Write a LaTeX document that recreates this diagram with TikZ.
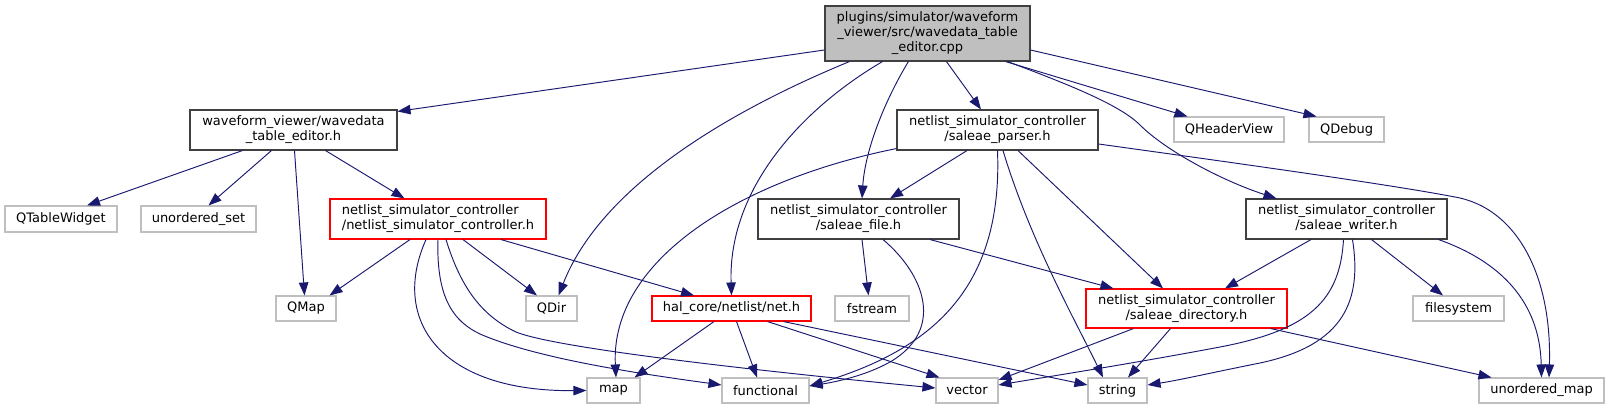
\documentclass[tikz,border=0pt]{standalone}
\usepackage{fontspec}
\usetikzlibrary{arrows.meta}
\newfontfamily\dgfont{DejaVu Sans}
\newcommand\dgtext{\dgfont\fontsize{13}{15}\selectfont}
\definecolor{edgecol}{HTML}{191970}
\definecolor{docborder}{HTML}{404040}
\definecolor{extborder}{HTML}{BFBFBF}
\definecolor{mainfill}{HTML}{BFBFBF}
\tikzset{
  nd/.style={draw=docborder, line width=1.1pt, fill=white, inner sep=0pt, align=center, font=\dgtext, text=black},
  ext/.style={nd, draw=extborder},
  redn/.style={nd, draw=red},
  edge/.style={draw=edgecol, line width=0.95pt, -{Triangle[length=13pt,width=9.5pt]}, fill=none},
}
\begin{document}
\begin{tikzpicture}[x=1pt,y=-1pt]
\useasboundingbox (0,0) rectangle (1609,409);
% nodes
\node[nd, fill=mainfill, minimum width=205pt, minimum height=55pt] (main) at (927.5,33.5) {plugins/simulator/waveform\\\_viewer/src/wavedata\_table\\\_editor.cpp};
\node[nd, minimum width=207pt, minimum height=40pt] (wte) at (293.5,130) {waveform\_viewer/wavedata\\\_table\_editor.h};
\node[ext, minimum width=112pt, minimum height=26pt] (qtw) at (61,219) {QTableWidget};
\node[ext, minimum width=115pt, minimum height=26pt] (uset) at (198.5,219) {unordered\_set};
\node[redn, align=left, minimum width=216pt, minimum height=40pt] (nsc) at (438,219) {netlist\_simulator\_controller\\/netlist\_simulator\_controller.h};
\node[ext, minimum width=60pt, minimum height=25pt] (qmap) at (306,308.5) {QMap};
\node[ext, minimum width=51pt, minimum height=25pt] (qdir) at (551.5,308.5) {QDir};
\node[redn, minimum width=159pt, minimum height=25pt] (net) at (731.5,308.5) {hal\_core/netlist/net.h};
\node[ext, minimum width=53pt, minimum height=25pt] (map) at (613.5,390.5) {map};
\node[ext, minimum width=87pt, minimum height=25pt] (func) at (765.5,390.5) {functional};
\node[ext, minimum width=62pt, minimum height=25pt] (vec) at (967,390.5) {vector};
\node[nd, minimum width=201pt, minimum height=40pt] (sp) at (997.5,130) {netlist\_simulator\_controller\\/saleae\_parser.h};
\node[nd, minimum width=201pt, minimum height=40pt] (sf) at (858.5,219) {netlist\_simulator\_controller\\/saleae\_file.h};
\node[ext, minimum width=74pt, minimum height=25pt] (fstr) at (872,308.5) {fstream};
\node[ext, minimum width=110pt, minimum height=25pt] (qhv) at (1229,129.5) {QHeaderView};
\node[ext, minimum width=75pt, minimum height=25pt] (qdbg) at (1346.5,129.5) {QDebug};
\node[nd, minimum width=201pt, minimum height=40pt] (sw) at (1346.5,219) {netlist\_simulator\_controller\\/saleae\_writer.h};
\node[redn, minimum width=201pt, minimum height=39pt] (sd) at (1186.5,308.5) {netlist\_simulator\_controller\\/saleae\_directory.h};
\node[ext, minimum width=91pt, minimum height=25pt] (fsys) at (1458.5,308.5) {filesystem};
\node[ext, minimum width=59pt, minimum height=25pt] (str) at (1117.5,390.5) {string};
\node[ext, minimum width=125pt, minimum height=25pt] (umap) at (1541.5,390.5) {unordered\_map};
% edges from main
\draw[edge] ([yshift=-16.5pt]main.west) -- ([yshift=-2pt]wte.north east);
\draw[edge] ([xshift=25pt]main.south west) .. controls (720,115) and (600,190) .. ([xshift=7pt]qdir.north);
\draw[edge] ([xshift=58pt]main.south west) .. controls (800,110) and (728,190) .. (net.north);
\draw[edge] ([xshift=84pt]main.south west) .. controls (885,100) and (865,150) .. ([xshift=3.5pt]sf.north);
\draw[edge] ([xshift=122pt]main.south west) -- ([xshift=-16.5pt]sp.north);
\draw[edge] ([xshift=-25pt]main.south east) -- ([xshift=14pt]qhv.north west);
\draw[edge] ([yshift=-16.5pt]main.east) -- ([xshift=8pt]qdbg.north west);
\draw[edge] ([xshift=-23pt]main.south east) .. controls (1070,85) and (1120,105) .. (1140,125) .. controls (1165,150) and (1220,180) .. ([xshift=31pt]sw.north west);
% edges from wte
\draw[edge] ([xshift=53pt]wte.south west) -- ([xshift=26pt]qtw.north);
\draw[edge] ([xshift=82pt]wte.south west) -- ([xshift=10pt]uset.north);
\draw[edge] ([xshift=1pt]wte.south) -- ([xshift=-1.5pt]qmap.north);
\draw[edge] ([xshift=32pt]wte.south) -- ([xshift=-33.5pt]nsc.north);
% edges from nsc
\draw[edge] ([xshift=-28pt]nsc.south) -- ([xshift=-7pt]qmap.north east);
\draw[edge] ([xshift=25pt]nsc.south) -- ([xshift=-14.5pt]qdir.north);
\draw[edge] ([xshift=63pt]nsc.south) -- ([xshift=-37.5pt]net.north);
\draw[edge] ([xshift=-12pt]nsc.south) .. controls (390,320) and (440,392) .. (map.west);
\draw[edge] (nsc.south) .. controls (436,300) and (455,322) .. (480,334) .. controls (540,360) and (650,375) .. ([yshift=5.5pt]func.west);
\draw[edge] ([xshift=8pt]nsc.south) .. controls (460,285) and (480,315) .. (516,332) .. controls (560,350) and (800,375) .. ([yshift=2.5pt]vec.west);
% edges from sp
\draw[edge] ([yshift=2pt]sp.south west) .. controls (740,180) and (610,260) .. ([xshift=2.5pt]map.north);
\draw[edge] ([xshift=-30.5pt]sp.south) -- ([xshift=31.5pt]sf.north);
\draw[edge] (sp.south) .. controls (1003,290) and (930,350) .. ([yshift=4.5pt]func.east);
\draw[edge] ([xshift=5.5pt]sp.south) .. controls (1030,240) and (1075,320) .. ([xshift=-14.5pt]str.north);
\draw[edge] ([xshift=20.5pt]sp.south) -- ([xshift=-23.5pt]sd.north);
\draw[edge] ([yshift=-14pt]sp.east) .. controls (1250,165) and (1400,186) .. (1460,198) .. controls (1520,212) and (1552,280) .. ([xshift=7.5pt]umap.north);
% edges from sf
\draw[edge] ([xshift=3.5pt]sf.south) -- ([xshift=-3.5pt]fstr.north);
\draw[edge] ([xshift=24.5pt]sf.south) .. controls (925,275) and (945,330) .. (890,362) .. controls (865,376) and (835,382) .. ([yshift=4.5pt]func.east);
\draw[edge] ([xshift=71.5pt]sf.south) -- ([xshift=28pt]sd.north west);
% edges from net
\draw[edge] ([xshift=-17.5pt]net.south) -- ([xshift=-6pt]map.north east);
\draw[edge] ([xshift=5pt]net.south) -- ([xshift=-8.5pt]func.north);
\draw[edge] ([xshift=36pt]net.south) -- ([xshift=4pt]vec.north west);
\draw[edge] ([xshift=52pt]net.south) -- ([yshift=5.5pt]str.west);
% edges from sw
\draw[edge] ([xshift=-35.5pt]sw.south) -- ([xshift=38.5pt]sd.north);
\draw[edge] ([xshift=-3pt]sw.south) .. controls (1340,300) and (1310,330) .. (1220,347) .. controls (1130,364) and (1040,378) .. ([yshift=5.5pt]vec.east);
\draw[edge] ([xshift=6pt]sw.south) .. controls (1362,300) and (1345,345) .. (1260,363) .. controls (1210,373) and (1180,380) .. ([yshift=5.5pt]str.east);
\draw[edge] ([xshift=25pt]sw.south) -- ([xshift=-15.5pt]fsys.north);
\draw[edge] ([xshift=-9pt]sw.south east) .. controls (1510,265) and (1540,310) .. (umap.north);
% edges from sd
\draw[edge] ([xshift=-53pt]sd.south) -- ([yshift=10.5pt]vec.east);
\draw[edge] ([xshift=-16pt]sd.south) -- ([xshift=10.5pt]str.north);
\draw[edge] ([xshift=-17pt]sd.south east) -- ([xshift=13pt]umap.north west);
\end{tikzpicture}
\end{document}
